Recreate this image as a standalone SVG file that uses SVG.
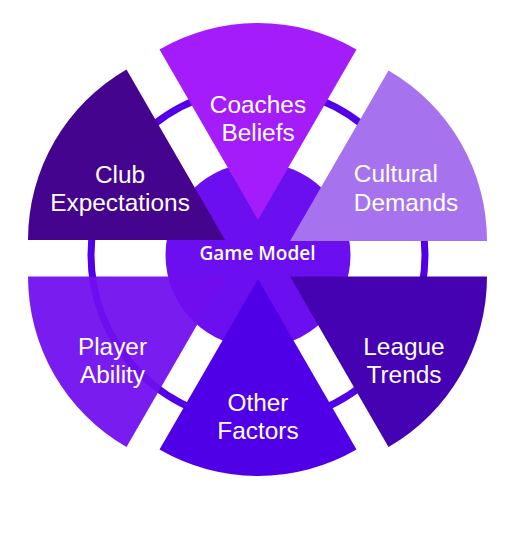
<svg xmlns="http://www.w3.org/2000/svg" width="518" height="536" viewBox="0 0 518 536">
  <style>
    .lbl { font-family: "Liberation Sans", Arial, sans-serif; font-size: 24.4px; fill: #ffffff; text-anchor: middle; }
    .ctr { font-family: "Open Sans", "Noto Sans", sans-serif; font-size: 19px; font-weight: 600; fill: #ffffff; text-anchor: middle; }
  </style>
  <rect width="518" height="536" fill="#ffffff"/>
  <g id="connectors">
    <circle id="ring" cx="258" cy="255" r="167" fill="none" stroke="#5200e8" stroke-width="7"/>
  </g>
  <g id="game-model-base">
    <circle cx="258" cy="255" r="92.5" fill="#6b0ff0"/>
  </g>
  <g id="coaches-beliefs">
    <path d="M258 220 L159.5 49.4 A197 197 0 0 1 356.5 49.4 Z" fill="#a41cfa"/>
    <text class="lbl" x="258" y="112.5">Coaches</text>
    <text class="lbl" x="258" y="141">Beliefs</text>
  </g>
  <g id="club-expectations">
    <path d="M225 240 L28 240 A197 197 0 0 1 126.5 69.4 Z" fill="#44048e"/>
    <text class="lbl" x="120" y="182.5">Club</text>
    <text class="lbl" x="120" y="211">Expectations</text>
  </g>
  <g id="cultural-demands">
    <path d="M290 241 L388.5 70.4 A197 197 0 0 1 487 241 Z" fill="#a672ee"/>
    <text class="lbl" x="353.8" y="182.3" style="text-anchor:start">Cultural</text>
    <text class="lbl" x="353.8" y="210.7" style="text-anchor:start">Demands</text>
  </g>
  <g id="league-trends">
    <path d="M290 276.5 L487 276.5 A197 197 0 0 1 388.5 447.1 Z" fill="#4502b2"/>
    <text class="lbl" x="404" y="355">League</text>
    <text class="lbl" x="404" y="383">Trends</text>
  </g>
  <g id="other-factors">
    <path d="M258 279 L356.5 449.6 A197 197 0 0 1 159.5 449.6 Z" fill="#5000e6"/>
    <text class="lbl" x="258" y="410.5">Other</text>
    <text class="lbl" x="258" y="439">Factors</text>
  </g>
  <g id="player-ability">
    <path d="M225 276.5 L126.5 447.1 A197 197 0 0 1 28 276.5 Z" fill="#700eee" fill-opacity="0.94"/>
    <text class="lbl" x="112.5" y="355">Player</text>
    <text class="lbl" x="112.5" y="383">Ability</text>
  </g>
  <g id="game-model">
    <text class="ctr" x="257.5" y="260">Game Model</text>
  </g>
</svg>
